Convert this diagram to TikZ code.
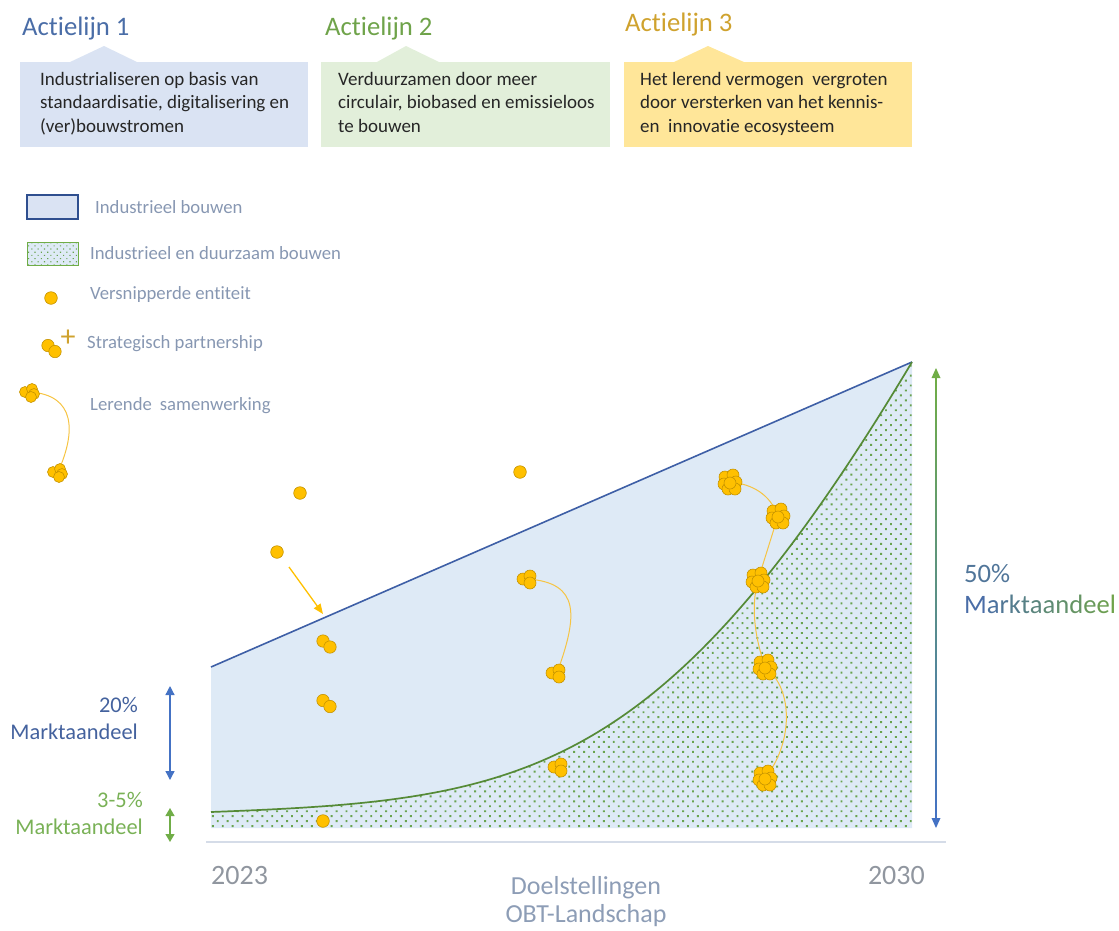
\documentclass[tikz,border=0pt]{standalone}
\usepackage{fontspec}
\setmainfont{Carlito}[Ligatures={NoCommon}]
\usetikzlibrary{arrows.meta,patterns.meta}
\definecolor{tblue}{HTML}{4A6DA7}
\definecolor{tgreen}{HTML}{6FA34A}
\definecolor{tgold}{HTML}{CFA22E}
\definecolor{bblue}{HTML}{DAE3F3}
\definecolor{bgreen}{HTML}{E2EFDA}
\definecolor{byellow}{HTML}{FFE699}
\definecolor{boxtxt}{HTML}{262626}
\definecolor{ltext}{HTML}{8797B2}
\definecolor{regfill}{HTML}{DEEAF6}
\definecolor{lblue}{HTML}{3E5FA6}
\definecolor{lgreen}{HTML}{558A36}
\definecolor{dotc}{HTML}{69A34F}
\definecolor{ent}{HTML}{FFC000}
\definecolor{entb}{HTML}{C59300}
\definecolor{curvec}{HTML}{F6C443}
\definecolor{axisc}{HTML}{D5DCE8}
\definecolor{yearc}{HTML}{90969F}
\definecolor{goalc}{HTML}{8D9DB6}
\definecolor{abl}{HTML}{4472C4}
\definecolor{agr}{HTML}{70AD47}
\definecolor{pblue}{HTML}{44629E}
\definecolor{pgreen}{HTML}{79B156}
\definecolor{legbord}{HTML}{2F4F8F}
\begin{document}
\begin{tikzpicture}[x=1pt,y=-1pt,
  title/.style={anchor=west,inner sep=0pt,font=\fontsize{26.7}{32}\selectfont},
  boxtext/.style={anchor=north west,inner sep=0pt,align=left,text=boxtxt,font=\fontsize{19}{23.5}\selectfont},
  legtext/.style={anchor=west,inner sep=0pt,text=ltext,font=\fontsize{18.7}{22}\selectfont},
  sharetext/.style={inner sep=0pt,font=\fontsize{22.4}{26}\selectfont},
  bigtext/.style={inner sep=0pt,font=\fontsize{26.6}{30}\selectfont},
  yeartext/.style={inner sep=0pt,text=yearc,font=\fontsize{28}{32}\selectfont},
  goaltext/.style={inner sep=0pt,text=goalc,font=\fontsize{26}{30}\selectfont},
  entc/.style={fill=ent,draw=entb,line width=0.6pt},
  link/.style={draw=curvec,line width=1pt},
  dotpat/.style={pattern={Dots[distance=7pt,radius=1.35pt,angle=45]},pattern color=dotc},
  onepic/.pic={\draw[entc] (0,0) circle (6.3pt);},
  twopic/.pic={\draw[entc] (-3.5,-3) circle (6.2pt); \draw[entc] (3.5,3) circle (6.2pt);},
  tripic/.pic={\draw[entc] (-5,0) circle (6pt); \draw[entc] (2,-3) circle (6pt); \draw[entc] (2,4) circle (6pt);},
  quadpic/.pic={\draw[entc] (-5,0) circle (5.5pt); \draw[entc] (2,-3) circle (5.5pt); \draw[entc] (4,2) circle (5.5pt); \draw[entc] (1,5) circle (5.5pt);},
  bigpic/.pic={\draw[entc] (-5,-5) circle (6pt); \draw[entc] (3,-7) circle (6pt); \draw[entc] (-6,2) circle (6pt); \draw[entc] (6,0) circle (6pt); \draw[entc] (-2,7) circle (6pt); \draw[entc] (5,7) circle (6pt); \draw[entc] (0,1) circle (6pt);}
]
\useasboundingbox (0,0) rectangle (1119,930);

% ---------- header ----------
\node[title,text=tblue] (t1) at (22,29) {Actielijn 1};
\node[title,text=tgreen] (t2) at (325,29) {Actielijn 2};
\node[title,text=tgold] (t3) at (625,25) {Actielijn 3};

\fill[bblue] (20,62) rectangle (308,147);
\fill[bgreen] (321,62) rectangle (610,147);
\fill[byellow] (624,62) rectangle (912,147);
\fill[bblue] (69,62.5) -- (104,46) -- (138,62.5) -- cycle;
\fill[bgreen] (376,62.5) -- (406,46) -- (440,62.5) -- cycle;
\fill[byellow] (673,62.5) -- (708,46) -- (745,62.5) -- cycle;
\node[boxtext] (b1) at (40,72) {Industrialiseren op basis van\\standaardisatie, digitalisering en\\(ver)bouwstromen};
\node[boxtext] (b2) at (338,72) {Verduurzamen door meer\\circulair, biobased en emissieloos\\te bouwen};
\node[boxtext] (b3) at (640,72) {Het lerend vermogen\ \ vergroten\\door versterken van het kennis-\\en\ \ innovatie ecosysteem};

% ---------- legend ----------
\draw[fill=bblue,draw=legbord,line width=1.2pt] (27,195) rectangle (78,219);
\fill[regfill] (27,242) rectangle (78,265);
\path[pattern={Dots[distance=4.5pt,radius=0.8pt,angle=45]},pattern color=dotc] (27,242) rectangle (78,265);
\draw[agr,line width=1pt] (27,242) rectangle (78,265);
\node[legtext] (l1) at (95,207) {Industrieel bouwen};
\node[legtext] (l2) at (90,253) {Industrieel en duurzaam bouwen};
\node[legtext] (l3) at (90,295) {Versnipperde entiteit};
\node[legtext] (l4) at (87,344) {Strategisch partnership};
\node[legtext] (l5) at (90,406) {Lerende\hspace{0.2em} samenwerking};
\pic at (51,298) {onepic};
\pic at (51.5,348.5) {twopic};
\node[inner sep=0pt,text=tgold,font=\fontsize{30}{30}\selectfont] (plus) at (68,338) {+};
\coordinate (lg1) at (30,392);
\coordinate (lg2) at (58,472);
\draw[link] (lg1) .. controls (76,395) and (76,432) .. (lg2);
\pic at (lg1) {quadpic};
\pic at (lg2) {quadpic};

% ---------- chart regions ----------
\coordinate (o23) at (211,828);
\coordinate (o30) at (912,828);
\coordinate (top30) at (912,362);
\coordinate (top23) at (211,667);
\coordinate (g23) at (211,812);
\fill[regfill] (top23) -- (top30) -- (o30) -- (o23) -- cycle;
\path[dotpat] (g23) .. controls (520,800) and (660,784) .. (top30) -- (o30) -- (o23) -- cycle;
\draw[lblue,line width=1.6pt] (top23) -- (top30);
\draw[lgreen,line width=1.7pt] (g23) .. controls (520,800) and (660,784) .. (top30);

% axis
\coordinate (ax1) at (206,842);
\coordinate (ax2) at (946,842);
\draw[axisc,line width=2.5pt] (ax1) -- (ax2);
\node[yeartext,anchor=west] (y23) at (211,875) {2023};
\node[yeartext,anchor=east] (y30) at (925,875) {2030};
\node[goaltext] (g1) at (586,888) {Doelstellingen};
\node[goaltext] (g2) at (586,916) {OBT-Landschap};

% left share arrows
\coordinate (a20t) at (170,686);
\coordinate (a20b) at (170,780);
\draw[abl,line width=1.3pt,{Triangle[width=9pt,length=9pt]}-{Triangle[width=9pt,length=9pt]}] (a20t) -- (a20b);
\node[sharetext,anchor=east,text=pblue] (s20a) at (138,705) {20\%};
\node[sharetext,anchor=east,text=pblue] (s20b) at (138,732) {Marktaandeel};
\coordinate (a5t) at (170,808);
\coordinate (a5b) at (170,842);
\draw[agr,line width=1.3pt,{Triangle[width=9pt,length=8pt]}-{Triangle[width=9pt,length=8pt]}] (a5t) -- (a5b);
\node[sharetext,anchor=east,text=pgreen] (s5a) at (143,800) {3-5\%};
\node[sharetext,anchor=east,text=pgreen] (s5b) at (143,827) {Marktaandeel};

% right share arrow (green to blue)
\coordinate (a50t) at (936,368);
\coordinate (a50b) at (936,828);
\shade[top color=agr,bottom color=abl] (935.3,377) rectangle (936.7,819);
\fill[agr] (a50t) -- (940.5,378) -- (931.5,378) -- cycle;
\fill[abl] (a50b) -- (940.5,818) -- (931.5,818) -- cycle;
\node[bigtext,anchor=west,text=tblue!85!tgreen] (s50a) at (964,574) {50\%};
\node[bigtext,anchor=west] (s50b) at (964,604) {{\color{tblue}M}{\color{tblue!91!tgreen}a}{\color{tblue!82!tgreen}r}{\color{tblue!73!tgreen}k}{\color{tblue!64!tgreen}t}{\color{tblue!55!tgreen}a}{\color{tblue!45!tgreen}a}{\color{tblue!36!tgreen}n}{\color{tblue!27!tgreen}d}{\color{tblue!18!tgreen}e}{\color{tblue!9!tgreen}e}{\color{tgreen}l}};

% ---------- entities ----------
\coordinate (d1) at (300,493);
\coordinate (d2) at (277,552);
\coordinate (d3) at (520,472);
\coordinate (d4) at (323,821);
\coordinate (arS) at (289,567);
\coordinate (arE) at (323,614);
\draw[ent,line width=1.3pt,-{Triangle[width=8pt,length=10pt]}] (arS) -- (arE);
\pic at (d1) {onepic};
\pic at (d2) {onepic};
\pic at (d3) {onepic};
\pic at (d4) {onepic};
\pic at (326.5,644) {twopic};
\pic at (326.5,703.5) {twopic};

\coordinate (k3) at (528,579);
\coordinate (k4) at (557,673);
\draw[link] (k3) .. controls (580,583) and (578,615) .. (k4);
\pic at (k3) {tripic};
\pic at (k4) {tripic};
\pic at (559,767) {tripic};

\coordinate (k5) at (730,482);
\coordinate (k6) at (778,516);
\coordinate (k7) at (758,580);
\coordinate (k8) at (765,667);
\coordinate (k9) at (765,778);
\draw[link] (k5) .. controls (752,484) and (770,494) .. (k6);
\draw[link] (k6) -- (k7);
\draw[link] (k7) .. controls (750,610) and (756,640) .. (k8);
\draw[link] (k8) .. controls (795,690) and (792,745) .. (k9);
\pic at (k5) {bigpic};
\pic at (k6) {bigpic};
\pic at (k7) {bigpic};
\pic at (k8) {bigpic};
\pic at (k9) {bigpic};
\end{tikzpicture}
\end{document}
